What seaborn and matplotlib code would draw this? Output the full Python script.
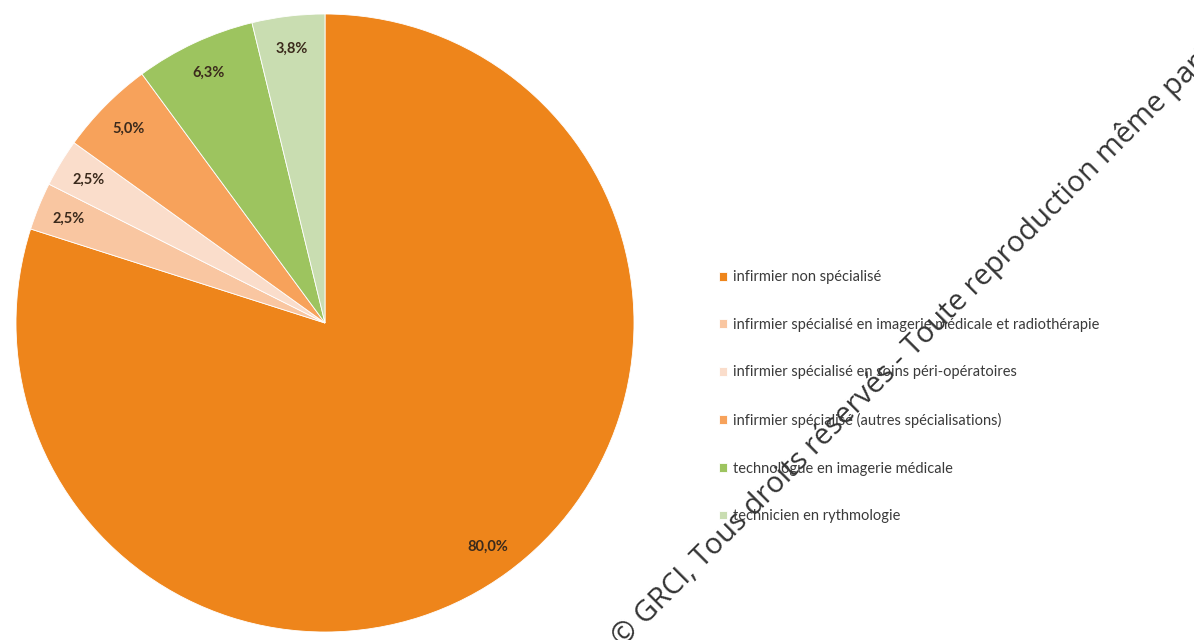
import matplotlib
matplotlib.use("Agg")
import matplotlib.pyplot as plt
import seaborn as sns
import numpy as np

categories = [
    "infirmier non spécialisé",
    "infirmier spécialisé en imagerie médicale et radiothérapie",
    "infirmier spécialisé en soins péri-opératoires",
    "infirmier spécialisé (autres spécialisations)",
    "technologue en imagerie médicale",
    "technicien en rythmologie",
]
values = [80.0, 2.5, 2.5, 5.0, 6.3, 3.8]
value_labels = ["80,0%", "2,5%", "2,5%", "5,0%", "6,3%", "3,8%"]
colors = ["#EE851B", "#F9C6A1", "#FADDCB", "#F7A25B", "#9DC45F", "#C9DDB1"]
watermark = "© GRCI, Tous droits réservés - Toute reproduction même partielle interdite"

sns.set_theme(style="white")
plt.rcParams['font.family'] = ['Lato', 'DejaVu Sans']

W, H = 1194, 640
fig = plt.figure(figsize=(W / 100, H / 100), dpi=100)
fig.patch.set_facecolor("white")

cx, cy, r = 325, 323, 309
ax = fig.add_axes([(cx - r) / W, (H - cy - r) / H, 2 * r / W, 2 * r / H])
wedges, _ = ax.pie(values, colors=colors, startangle=90, counterclock=False,
                   radius=1.0, wedgeprops=dict(edgecolor="white", linewidth=0.6))
ax.set_xlim(-1, 1)
ax.set_ylim(-1, 1)
ax.set_aspect("equal")
ax.axis("off")

for w, lab in zip(wedges, value_labels):
    ang = np.deg2rad((w.theta1 + w.theta2) / 2)
    d = 0.895
    ax.text(d * np.cos(ang), d * np.sin(ang), lab, ha="center", va="center",
            fontsize=10.5, fontweight="bold", color="#3b2a1c")

leg = fig.legend(wedges, categories, loc="upper left",
                 bbox_to_anchor=(712 / W, 1 - 263 / H), frameon=False,
                 fontsize=10.5, handlelength=0.55, handleheight=0.55,
                 handletextpad=0.4, labelspacing=2.3, borderpad=0)
for t in leg.get_texts():
    t.set_color("#3a3a3a")

fig.text(623 / W, 1 - 648 / H, watermark,
         rotation=45, rotation_mode="anchor", ha="left", va="baseline",
         fontsize=21, color="#1e1e1e", alpha=0.9, family=['Open Sans', 'DejaVu Sans'])

fig.savefig("out.png", dpi=100, facecolor="white")
